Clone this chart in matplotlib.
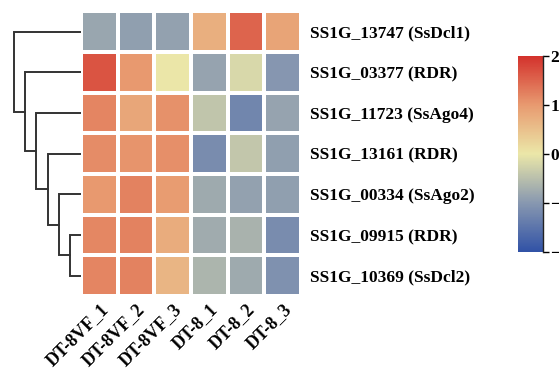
import numpy as np
import matplotlib
matplotlib.use("Agg")
import matplotlib.pyplot as plt
import matplotlib.transforms as mtrans
from matplotlib.colors import LinearSegmentedColormap

# row / column labels
genes = ["SS1G_13747 (SsDcl1)", "SS1G_03377 (RDR)", "SS1G_11723 (SsAgo4)",
         "SS1G_13161 (RDR)", "SS1G_00334 (SsAgo2)", "SS1G_09915 (RDR)",
         "SS1G_10369 (SsDcl2)"]
samples = ["DT-8VF_1", "DT-8VF_2", "DT-8VF_3", "DT-8_1", "DT-8_2", "DT-8_3"]

# z-scored expression
values = np.array([
    [-0.82, -0.91, -0.89,  0.72,  1.50,  0.86],
    [ 1.66,  1.00,  0.00, -0.85, -0.20, -1.03],
    [ 1.20,  0.84,  1.09, -0.43, -1.26, -0.85],
    [ 1.14,  1.05,  1.10, -1.16, -0.41, -0.91],
    [ 1.00,  1.23,  0.97, -0.78, -0.88, -0.91],
    [ 1.18,  1.23,  0.75, -0.76, -0.66, -1.16],
    [ 1.20,  1.23,  0.65, -0.64, -0.78, -1.10],
])

# row dendrogram: (left cluster, right cluster, height); new ids start at 7
links = [(5, 6, 1), (4, 7, 2), (3, 8, 3), (2, 9, 4), (1, 10, 5), (0, 11, 6)]

cmap = LinearSegmentedColormap.from_list(
    "rdylbu_soft", ["#3152a6", "#8898b0", "#ebe7a8", "#e89a70", "#d3312c"])

plt.rcParams["font.family"] = ["Liberation Serif", "DejaVu Serif"]
plt.rcParams["font.weight"] = "bold"

fig = plt.figure(figsize=(5.59, 3.72), dpi=100)
ax = fig.add_axes([0.145, 0.204, 0.393, 0.766])
dax = fig.add_axes([0.023, 0.204, 0.122, 0.766])
cax = fig.add_axes([0.927, 0.323, 0.045, 0.527])

mesh = ax.pcolormesh(values, cmap=cmap, vmin=-2, vmax=2,
                     edgecolors="white", linewidth=1.5)
ax.set_xlim(0, len(samples))
ax.set_ylim(len(genes), 0)
ax.set_xticks(np.arange(len(samples)) + 0.5)
ax.set_xticklabels(samples, rotation=45, ha="right", rotation_mode="anchor",
                   fontsize=13, fontweight="bold")
shift = mtrans.ScaledTranslation(7 / 100, 0, fig.dpi_scale_trans)
for t in ax.get_xticklabels():
    t.set_transform(t.get_transform() + shift)
ax.set_yticks(np.arange(len(genes)) + 0.5)
ax.set_yticklabels(genes, fontsize=12.5, fontweight="bold")
ax.yaxis.tick_right()
ax.tick_params(axis="y", length=0, pad=7)
ax.tick_params(axis="x", length=0, pad=3)
for s in ax.spines.values():
    s.set_visible(False)

# dendrogram
pos = {i: i + 0.5 for i in range(len(genes))}
hgt = {i: 0 for i in range(len(genes))}
for k, (a, b, h) in enumerate(links):
    ya, yb = pos[a], pos[b]
    dax.plot([hgt[a], h, h, hgt[b]], [ya, ya, yb, yb], color="#333333", lw=1.4,
             solid_joinstyle="miter")
    pos[len(genes) + k] = (ya + yb) / 2
    hgt[len(genes) + k] = h
dax.set_xlim(6.1, 0)
dax.set_ylim(len(genes), 0)
dax.axis("off")

cb = fig.colorbar(mesh, cax=cax, ticks=[-2, -1, 0, 1, 2])
cb.outline.set_visible(False)
cax.plot([1, 1], [0, 1], transform=cax.transAxes, color="#222222", lw=1,
         clip_on=False)
cax.tick_params(length=4, width=1, labelsize=12.5, pad=1)
for t in cax.get_yticklabels():
    t.set_fontweight("bold")

fig.savefig("out.png", dpi=100)
